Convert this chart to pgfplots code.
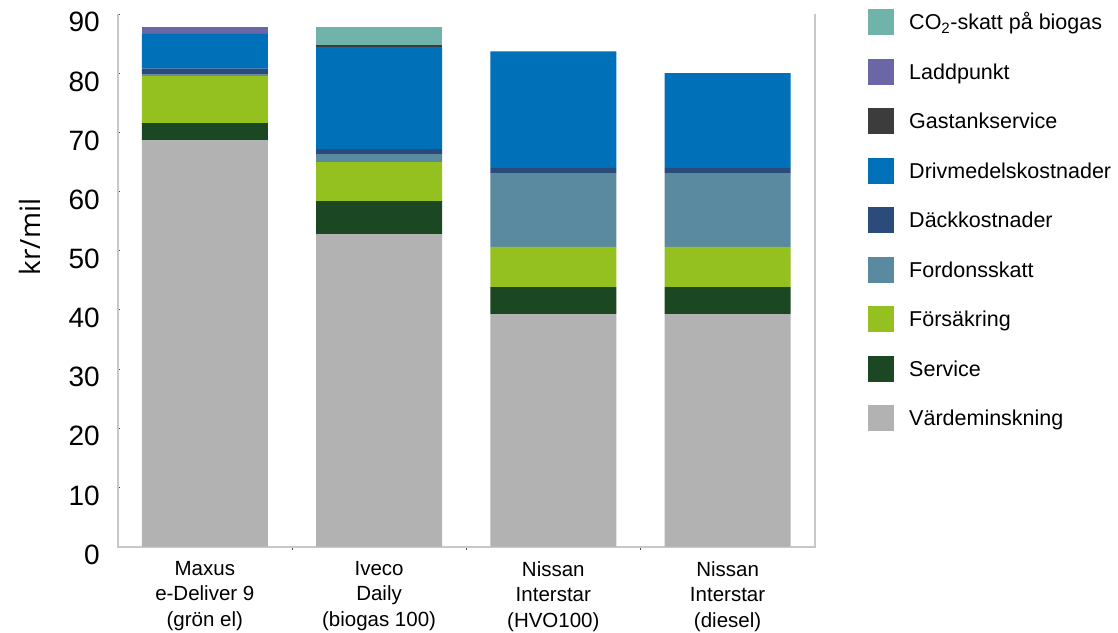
\documentclass[border=0pt]{standalone}
\usepackage{pgfplots}
\pgfplotsset{compat=1.18}
\usepackage{fontspec}
\setmainfont{Liberation Sans}
\newfontfamily\labfont{Open Sans}
\definecolor{cCO}{HTML}{6FB3AA}
\definecolor{cLadd}{HTML}{6B66A6}
\definecolor{cGas}{HTML}{3C3C3C}
\definecolor{cDriv}{HTML}{0070B9}
\definecolor{cDack}{HTML}{2B4C7A}
\definecolor{cFord}{HTML}{5A8AA0}
\definecolor{cFors}{HTML}{95C120}
\definecolor{cServ}{HTML}{1C4723}
\definecolor{cVard}{HTML}{B2B2B2}
\definecolor{axgray}{HTML}{C8C8C8}
\begin{document}
\begin{tikzpicture}
\useasboundingbox (0,0) rectangle (1118pt,632pt);
\begin{axis}[
  at={(117.7pt,85.5pt)}, anchor=south west,
  scale only axis, width=697pt, height=532.2pt,
  xmin=-0.5, xmax=3.5, ymin=0, ymax=90,
  ybar stacked, bar width=0.723,
  axis line style={draw=none},
  clip=false,
  ytick pos=left, xtick pos=bottom,
  ytick={0,10,...,90},
  xtick={0,1,2,3},
  xticklabels={{Maxus\\e-Deliver 9\\(grön el)},{Iveco\\Daily\\(biogas 100)},{Nissan\\Interstar\\(HVO100)},{Nissan\\Interstar\\(diesel)}},
  xtick style={draw=none},
  ytick style={draw=black!75, line width=1pt},
  major tick length=2pt,
  extra x ticks={0.5,1.5,2.5},
  extra x tick labels={},
  extra x tick style={xtick style={draw=black!70, line width=0.8pt}, tick align=outside, major tick length=3pt},
  /pgf/number format/assume math mode=true,
  yticklabel style={font=\fontsize{28}{28}\selectfont, anchor=east, inner sep=0pt, xshift=-17.7pt, yshift=-8pt},
  xticklabel style={font=\fontsize{20.5}{25.5}\selectfont, align=center, anchor=north, inner sep=0pt, yshift=-14.5pt},
  ylabel={kr/mil},
  ylabel style={at={(axis description cs:-0.1258,0.5815)}, anchor=center, font=\labfont\fontsize{28}{28}\selectfont},
  legend style={at={(1.0765,1.010)}, anchor=north west, draw=none, fill=none, inner sep=0pt,
    font=\fontsize{21.5}{21.5}\selectfont, row sep=23.5pt, column sep=0pt,
    nodes={inner sep=0pt, text height=15.4pt, text depth=0pt}, cells={anchor=west}},
  legend image code/.code={\fill[#1] (0pt,-13pt) rectangle (26pt,13pt); \path (41pt,0pt);},
  reverse legend,
]
\addplot[fill=cVard, draw=none] coordinates {(0,68.7) (1,52.8) (2,39.3) (3,39.3)};
\addlegendentry{Värdeminskning}
\addplot[fill=cServ, draw=none] coordinates {(0,2.9) (1,5.6) (2,4.55) (3,4.55)};
\addlegendentry{Service}
\addplot[fill=cFors, draw=none] coordinates {(0,8.0) (1,6.6) (2,6.8) (3,6.8)};
\addlegendentry{Försäkring}
\addplot[fill=cFord, draw=none] coordinates {(0,0.2) (1,1.35) (2,12.5) (3,12.5)};
\addlegendentry{Fordonsskatt}
\addplot[fill=cDack, draw=none] coordinates {(0,1.0) (1,0.85) (2,0.85) (3,0.85)};
\addlegendentry{Däckkostnader}
\addplot[fill=cDriv, draw=none] coordinates {(0,5.9) (1,17.25) (2,19.75) (3,16.05)};
\addlegendentry{Drivmedelskostnader}
\addplot[fill=cGas, draw=none] coordinates {(0,0) (1,0.35) (2,0) (3,0)};
\addlegendentry{Gastankservice}
\addplot[fill=cLadd, draw=none] coordinates {(0,1.2) (1,0) (2,0) (3,0)};
\addlegendentry{Laddpunkt}
\addplot[fill=cCO, draw=none] coordinates {(0,0) (1,3.05) (2,0) (3,0)};
\addlegendentry{CO\textsubscript{2}-skatt på biogas}
\draw[color=axgray, line width=2pt] (rel axis cs:0,1) -- (rel axis cs:0,0) -- (rel axis cs:1,0) -- (rel axis cs:1,1);
\end{axis}
\end{tikzpicture}
\end{document}
